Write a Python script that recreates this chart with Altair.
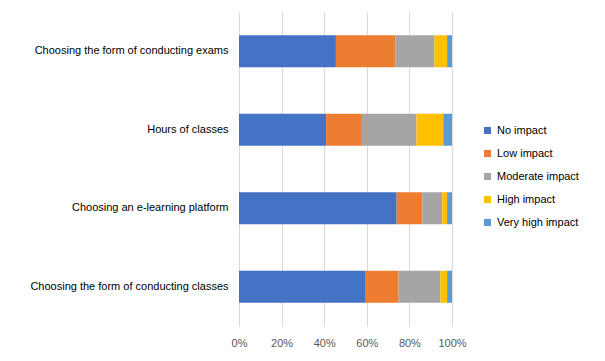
import altair as alt
import pandas as pd

categories = ["Choosing the form of conducting exams", "Hours of classes",
              "Choosing an e-learning platform", "Choosing the form of conducting classes"]
levels = ["No impact", "Low impact", "Moderate impact", "High impact", "Very high impact"]
colors = ["#4472C4", "#ED7D31", "#A5A5A5", "#FFC000", "#5B9BD5"]
no_impact = [45.5, 40.9, 74.0, 59.5]
low_impact = [28.0, 16.8, 12.1, 15.4]
moderate_impact = [18.2, 25.6, 9.3, 19.6]
high_impact = [6.0, 12.6, 2.3, 3.2]
very_high_impact = [2.3, 4.1, 2.3, 2.3]

series = [no_impact, low_impact, moderate_impact, high_impact, very_high_impact]
rows = []
for li, (lev, vals) in enumerate(zip(levels, series)):
    for c, v in zip(categories, vals):
        rows.append({"category": c, "level": lev, "order": li, "value": v / 100})
df = pd.DataFrame(rows)

font = "Liberation Sans"
chart = alt.Chart(df).mark_bar(size=32).encode(
    y=alt.Y("category:N", sort=categories, title=None,
            axis=alt.Axis(ticks=False, domain=False, labelPadding=11, labelFontSize=11,
                          labelColor="#000000", labelFont=font, labelLimit=300)),
    x=alt.X("value:Q", stack="zero", title=None,
            scale=alt.Scale(domain=[0, 1], nice=False),
            axis=alt.Axis(format="%", values=[0, 0.2, 0.4, 0.6, 0.8, 1.0], ticks=False,
                          domain=False, gridColor="#D9D9D9", labelColor="#595959",
                          labelFontSize=11, labelFont=font, labelPadding=11,
                          labelFlush=False)),
    color=alt.Color("level:N", sort=levels, scale=alt.Scale(domain=levels, range=colors),
                    legend=alt.Legend(title=None, orient="none", legendX=243, legendY=113,
                                      symbolType="square", symbolSize=50, labelFontSize=11,
                                      labelFont=font, labelColor="#000000", rowPadding=11,
                                      labelOffset=4, symbolStrokeWidth=0)),
    order=alt.Order("order:Q"),
).properties(
    width=213, height=314,
    autosize=alt.AutoSizeParams(type="none"),
    padding={"left": 231, "top": 4, "right": 145, "bottom": 30},
).configure_view(stroke=None).configure_axis(gridWidth=1)

chart.save("out.html", embed_options={"renderer": "svg", "actions": False})
